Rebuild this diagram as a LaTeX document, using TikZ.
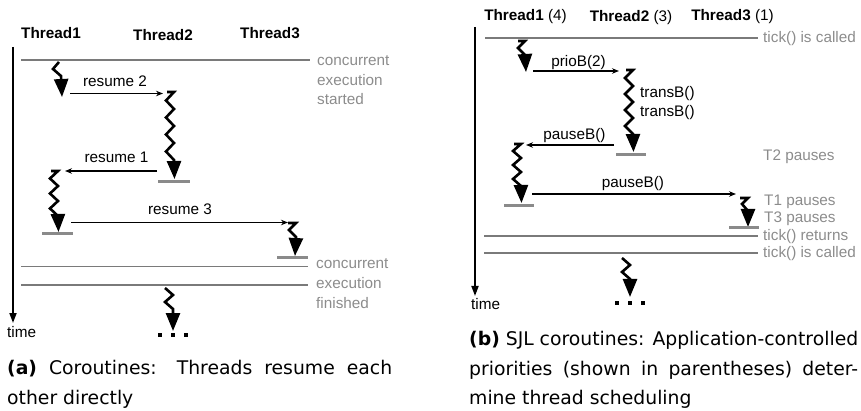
\documentclass[tikz,border=0pt]{standalone}
\usepackage{fontspec}
\setmainfont{Liberation Sans}
\newfontfamily\capfont{DejaVu Sans}
\usetikzlibrary{arrows.meta}
\definecolor{txtgray}{HTML}{8C8C8C}
\definecolor{lngray}{HTML}{7A7A7A}
\definecolor{bargray}{HTML}{8A8A8A}
\tikzset{
  lbl/.style={font=\fontsize{15.3}{18}\selectfont, inner sep=0pt, anchor=base},
  note/.style={lbl, text=txtgray, anchor=base west},
  phase/.style={draw=lngray, line width=1.6pt},
  bar/.style={draw=bargray, line width=3pt},
  msg/.style={draw=black, line width=1.1pt, -{Stealth[length=7pt,width=5.5pt]}},
  zzline/.style={draw=black, line width=2.6pt, -{Triangle[length=18pt,width=14pt]}},
  axis/.style={draw=black, line width=1.8pt, -{Triangle[length=10pt,width=7pt]}},
  capt/.style={font=\capfont\fontsize{18.8}{22}\selectfont, inner sep=0pt, anchor=base west},
}
% long zigzag arrow: right x, top y, number of zig points (even), step, tip y
\newcommand\zzarrow[5]{%
  \draw[zzline] ({#1-7},#2) -- (#1,#2)
    \foreach \i in {1,...,#3}{ -- ({#1-8*mod(\i,2)},{#2+#4*\i}) } -- ({#1+0.5},#5);
}
\newcommand\dotsrow[2]{%
  \fill (#1,#2) rectangle +(4,4);
  \fill ({#1+13},#2) rectangle +(4,4);
  \fill ({#1+26},#2) rectangle +(4,4);
}
\begin{document}
\begin{tikzpicture}[x=1pt,y=-1pt]
\useasboundingbox (0,0) rectangle (861,411);

% ================= panel (a) =================
\node[lbl,font=\fontsize{15.3}{18}\selectfont\bfseries] (ta1) at (51,38.5) {Thread1};
\node[lbl,font=\fontsize{15.3}{18}\selectfont\bfseries] (ta2) at (163,40.5) {Thread2};
\node[lbl,font=\fontsize{15.3}{18}\selectfont\bfseries] (ta3) at (270,38.5) {Thread3};

\coordinate (axa0) at (13,47);
\coordinate (axa1) at (13,323);
\draw[axis] (axa0) -- (axa1);
\node[lbl,anchor=base west] (timea) at (7,337.5) {time};

\coordinate (sa0) at (21,60); \coordinate (sa1) at (310,60);
\draw[phase] (sa0) -- (sa1);
\node[note] (na1) at (317,66) {concurrent};
\node[note] (na2) at (317,85.5) {execution};
\node[note] (na3) at (317,104.5) {started};

\draw[zzline] (59,62) -- (53,69) -- (61,76) -- (62,97);
\coordinate (r2s) at (70,93.5); \coordinate (r2e) at (163,93.5);
\draw[msg] (r2s) -- (r2e);
\node[lbl] (r2l) at (115,86.5) {resume 2};

\zzarrow{174}{92}{8}{8.5}{179}
\coordinate (ba2s) at (158,182); \coordinate (ba2e) at (190,182);
\draw[bar] (ba2s) -- (ba2e);

\coordinate (r1s) at (157,171); \coordinate (r1e) at (65,171);
\draw[msg] (r1s) -- (r1e);
\node[lbl] (r1l) at (116.5,162.5) {resume 1};

\zzarrow{58}{171}{6}{7.5}{232}
\coordinate (ba1s) at (42,234); \coordinate (ba1e) at (73,234);
\draw[bar] (ba1s) -- (ba1e);

\coordinate (r3s) at (71,222.5); \coordinate (r3e) at (288,222.5);
\draw[msg] (r3s) -- (r3e);
\node[lbl] (r3l) at (180,214.5) {resume 3};

\draw[zzline] (288,223) -- (296,223) -- (289,230) -- (296,237) -- (295,256);
\coordinate (ba3s) at (277,258); \coordinate (ba3e) at (308,258);
\draw[bar] (ba3s) -- (ba3e);

\coordinate (ea0) at (21,266.5); \coordinate (ea1) at (308,266.5);
\coordinate (fa0) at (21,285); \coordinate (fa1) at (308,285);
\draw[phase] (ea0) -- (ea1);
\draw[phase] (fa0) -- (fa1);
\node[note] (nb1) at (316,268.5) {concurrent};
\node[note] (nb2) at (316,288.5) {execution};
\node[note] (nb3) at (316,308.5) {finished};

\draw[zzline] (165,288) -- (173,295) -- (165,302) -- (173,309) -- (173,331);
\dotsrow{158}{333}

\node[capt] (capa1) at (7,374) {\makebox[385pt][s]{\textbf{(a)} Coroutines: Threads resume each}};
\node[capt] (capa2) at (7,404.5) {other directly};

% ================= panel (b) =================
\node[lbl] (tb1) at (525.5,20.5) {\textbf{Thread1} (4)};
\node[lbl] (tb2) at (631,21.5) {\textbf{Thread2} (3)};
\node[lbl] (tb3) at (732.5,20.5) {\textbf{Thread3} (1)};

\coordinate (axb0) at (475,27);
\coordinate (axb1) at (475,296);
\draw[axis] (axb0) -- (axb1);
\node[lbl,anchor=base west] (timeb) at (471,309.5) {time};

\coordinate (tk0) at (485,38); \coordinate (tk1) at (758,38);
\draw[phase] (tk0) -- (tk1);
\node[note] (nt1) at (763,42.5) {tick() is called};

\draw[zzline] (518,41) -- (525,41) -- (518,48) -- (525,55) -- (526,72);
\coordinate (p2s) at (533,71); \coordinate (p2e) at (619,71);
\draw[msg] (p2s) -- (p2e);
\node[lbl] (p2l) at (578.5,66.5) {prioB(2)};

\zzarrow{633}{70}{8}{8}{152}
\node[lbl,anchor=base west] (tr1) at (640,97.5) {transB()};
\node[lbl,anchor=base west] (tr2) at (640,116.5) {transB()};
\coordinate (bb2s) at (616,155); \coordinate (bb2e) at (646,155);
\draw[bar] (bb2s) -- (bb2e);

\coordinate (pb1s) at (614,145); \coordinate (pb1e) at (526,145);
\draw[msg] (pb1s) -- (pb1e);
\node[lbl] (pb1l) at (574.5,139.5) {pauseB()};
\node[note] (nt2) at (763,160.5) {T2 pauses};

\zzarrow{521}{144}{6}{7}{203}
\coordinate (bb1s) at (504,206); \coordinate (bb1e) at (534,206);
\draw[bar] (bb1s) -- (bb1e);

\coordinate (pb2s) at (532,194); \coordinate (pb2e) at (736,194);
\draw[msg] (pb2s) -- (pb2e);
\node[lbl] (pb2l) at (633,187.5) {pauseB()};

\draw[zzline] (740,198) -- (748,198) -- (742,204) -- (748,211) -- (748,227);
\coordinate (bb3s) at (729,228); \coordinate (bb3e) at (759,228);
\draw[bar] (bb3s) -- (bb3e);
\node[note] (nt3) at (764,205.5) {T1 pauses};
\node[note] (nt4) at (764,222.5) {T3 pauses};

\coordinate (rt0) at (484,236); \coordinate (rt1) at (758,236);
\coordinate (ct0) at (484,253); \coordinate (ct1) at (758,253);
\draw[phase] (rt0) -- (rt1);
\draw[phase] (ct0) -- (ct1);
\node[note] (nt5) at (763,240.5) {tick() returns};
\node[note] (nt6) at (763,257.5) {tick() is called};

\draw[zzline] (622,258) -- (630,265) -- (622,272) -- (630,279) -- (630,297);
\dotsrow{615}{301}

\node[capt] (capb1) at (469,345) {\makebox[389pt][s]{\textbf{(b)} SJL coroutines: Application-controlled}};
\node[capt] (capb2) at (469,375) {\makebox[389pt][s]{priorities (shown in parentheses) deter-}};
\node[capt] (capb3) at (469,404.5) {mine thread scheduling};
\end{tikzpicture}
\end{document}
